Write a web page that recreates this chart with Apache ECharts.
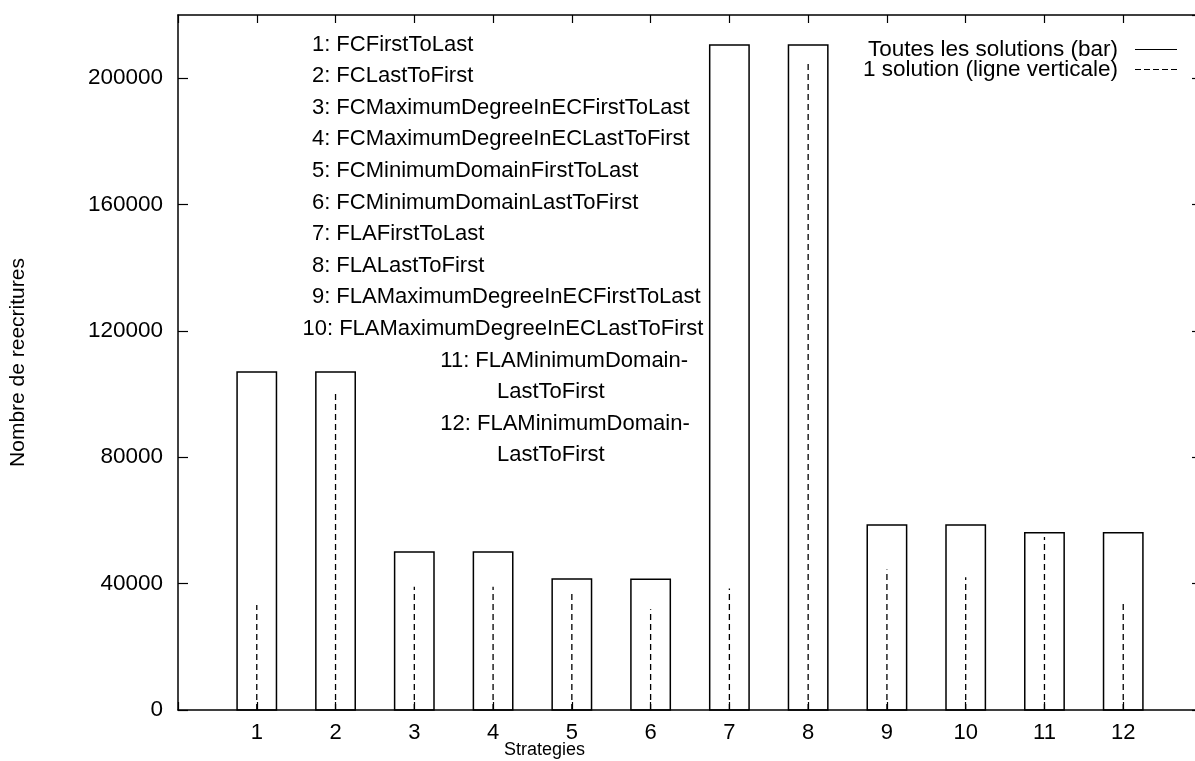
<!DOCTYPE html>
<html>
<head>
<meta charset="utf-8">
<script src="https://cdn.jsdelivr.net/npm/echarts@6/dist/echarts.min.js"></script>
<style>
  html, body { margin: 0; padding: 0; background: #fff; }
  #chart { width: 1195px; height: 761px; }
</style>
</head>
<body>
<div id="chart"></div>
<script>
// ---- data ----
const categories = [1, 2, 3, 4, 5, 6, 7, 8, 9, 10, 11, 12];
const xTickLabels = ['1', '2', '3', '4', '5', '6', '7', '8', '9', '10', '11', '12'];
const allSolutions = [107000, 107000, 50000, 50000, 41500, 41400, 210500, 210500, 58600, 58600, 56100, 56100];
const oneSolution = [33200, 101000, 39000, 39000, 38000, 31900, 38500, 204700, 44500, 42000, 54800, 34800];
const yTickValues = [0, 40000, 80000, 120000, 160000, 200000];
const strategyLines = [
  '1: FCFirstToLast',
  '2: FCLastToFirst',
  '3: FCMaximumDegreeInECFirstToLast',
  '4: FCMaximumDegreeInECLastToFirst',
  '5: FCMinimumDomainFirstToLast',
  '6: FCMinimumDomainLastToFirst',
  '7: FLAFirstToLast',
  '8: FLALastToFirst',
  '9: FLAMaximumDegreeInECFirstToLast',
  '10: FLAMaximumDegreeInECLastToFirst',
  '11: FLAMinimumDomain-',
  'LastToFirst',
  '12: FLAMinimumDomain-',
  'LastToFirst'
];
const seriesNames = ['Toutes les solutions (bar)', '1 solution (ligne verticale)'];

// ---- layout (not data) ----
const FONT = "'Liberation Sans', Arial, Helvetica, sans-serif";
const BAR_W = 0.5;
const labelX = [1.70, 1.70, 1.70, 1.70, 1.70, 1.70, 1.70, 1.70, 1.70, 1.58, 3.33, 4.05, 3.33, 4.05];
const labelTopY = 210000, labelStepY = 10000;

const chart = echarts.init(document.getElementById('chart'), null, { renderer: 'canvas' });

const axisLineStyle = { color: '#000', width: 1.5 };
const baseX = {
  type: 'value', min: 0, max: 13, interval: 1,
  axisLine: { show: true, onZero: false, lineStyle: axisLineStyle },
  axisTick: { show: true, inside: true, length: 8, lineStyle: { color: '#000', width: 1.2 } },
  splitLine: { show: false }
};
const baseY = {
  type: 'value', min: 0, max: 220000, interval: 40000,
  axisLine: { show: true, onZero: false, lineStyle: axisLineStyle },
  axisTick: { show: true, inside: true, length: 10, lineStyle: { color: '#000', width: 1.2 } },
  splitLine: { show: false }
};

const solidIcon = 'path://M0,0h42v1h-42z';
const dashIcon = 'path://M0,0h6v1h-6zM9,0h6v1h-6zM18,0h6v1h-6zM27,0h6v1h-6zM36,0h6v1h-6z';

chart.setOption({
  backgroundColor: '#fff',
  animation: false,
  textStyle: { fontFamily: FONT },
  grid: { left: 178, top: 15, width: 1024, height: 695, containLabel: false, outerBoundsMode: 'none' },
  legend: {
    orient: 'vertical', right: 13, top: 33, align: 'right',
    itemWidth: 42, itemHeight: 1.5, itemGap: -3,
    textStyle: { fontFamily: FONT, fontSize: 22.5, color: '#000', lineHeight: 20, padding: [0, 12, 0, 0] },
    data: [
      { name: seriesNames[0], icon: solidIcon },
      { name: seriesNames[1], icon: dashIcon }
    ]
  },
  xAxis: [
    Object.assign({}, baseX, {
      position: 'bottom',
      axisLabel: {
        show: true, margin: 12, color: '#000', fontSize: 22, fontFamily: FONT,
        formatter: v => (v >= 1 && v <= categories.length) ? xTickLabels[v - 1] : ''
      }
    }),
    Object.assign({}, baseX, { position: 'top', axisLabel: { show: false } })
  ],
  yAxis: [
    Object.assign({}, baseY, {
      position: 'left',
      name: 'Nombre de reecritures', nameLocation: 'middle', nameGap: 149,
      nameTextStyle: { color: '#000', fontSize: 21, fontFamily: FONT },
      axisLabel: {
        show: true, margin: 15, color: '#000', fontSize: 22.5, fontFamily: FONT,
        showMaxLabel: false,
        formatter: v => yTickValues.indexOf(v) >= 0 ? String(v) : ''
      }
    }),
    Object.assign({}, baseY, { position: 'right', axisLabel: { show: false } })
  ],
  series: [
    {
      name: seriesNames[0], type: 'custom', xAxisIndex: 0, yAxisIndex: 0,
      itemStyle: { color: '#000' },
      encode: { x: 0, y: 1 },
      data: categories.map((c, i) => [c, allSolutions[i]]),
      renderItem: function (params, api) {
        const x = api.value(0), v = api.value(1);
        const p0 = api.coord([x - BAR_W / 2, v]);
        const p1 = api.coord([x + BAR_W / 2, 0]);
        return {
          type: 'rect',
          shape: { x: p0[0], y: p0[1], width: p1[0] - p0[0], height: p1[1] - p0[1] },
          style: { fill: 'none', stroke: '#000', lineWidth: 1.5 }
        };
      }
    },
    {
      name: seriesNames[1], type: 'custom', xAxisIndex: 0, yAxisIndex: 0,
      itemStyle: { color: '#000' },
      encode: { x: 0, y: 1 },
      data: categories.map((c, i) => [c, oneSolution[i]]),
      renderItem: function (params, api) {
        const x = api.value(0), v = api.value(1);
        const a = api.coord([x, 0]);
        const b = api.coord([x, v]);
        return {
          type: 'line',
          shape: { x1: a[0], y1: a[1], x2: b[0], y2: b[1] },
          style: { stroke: '#000', lineWidth: 1.3, lineDash: [6, 4] }
        };
      }
    }
  ]
});

// annotation text list placed in data coordinates
const graphics = strategyLines.map((t, i) => {
  const p = chart.convertToPixel({ xAxisIndex: 0, yAxisIndex: 0 }, [labelX[i], labelTopY - i * labelStepY]);
  return {
    type: 'text', left: p[0], top: p[1] - 13,
    style: { text: t, fill: '#000', font: '22px ' + FONT }
  };
});
graphics.push({
  type: 'text', left: 504, top: 741,
  style: { text: 'Strategies', fill: '#000', font: '18px ' + FONT }
});
chart.setOption({ graphic: graphics });
</script>
</body>
</html>
